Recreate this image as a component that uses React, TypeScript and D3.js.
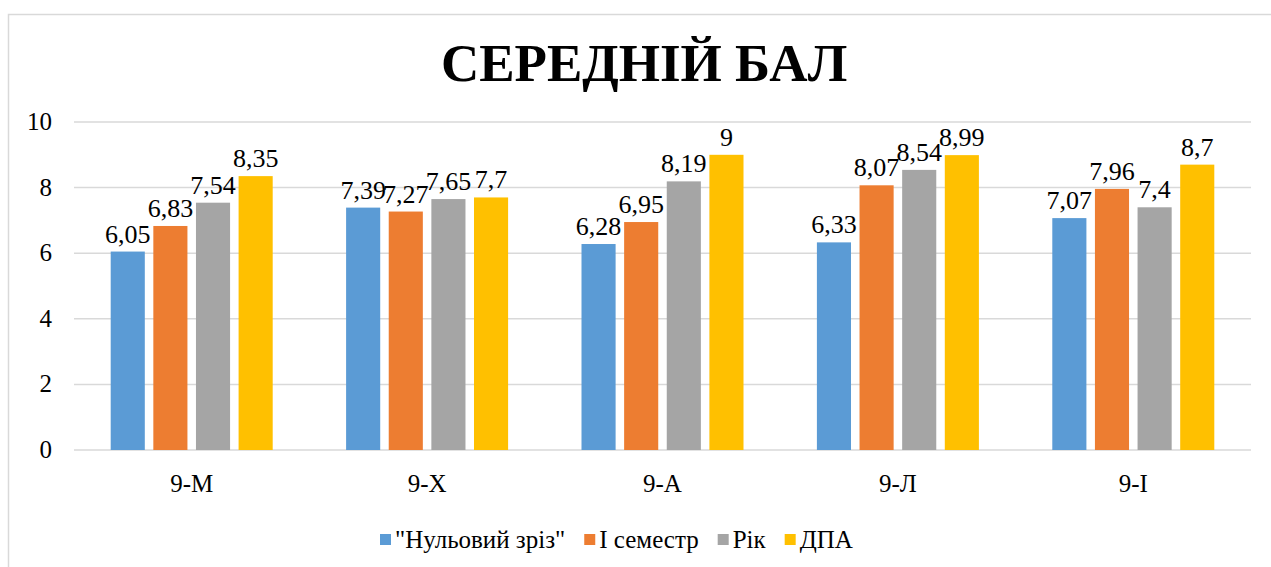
import * as d3 from 'd3';

const classes = ['9-М', '9-Х', '9-А', '9-Л', '9-І'];
const seriesNames = ['"Нульовий зріз"', 'І семестр', 'Рік', 'ДПА'];
const zeroCut = [6.05, 7.39, 6.28, 6.33, 7.07];
const semester1 = [6.83, 7.27, 6.95, 8.07, 7.96];
const year = [7.54, 7.65, 8.19, 8.54, 7.4];
const dpa = [8.35, 7.7, 9, 8.99, 8.7];
const yTicks = [0, 2, 4, 6, 8, 10];

const colors = ['#5B9BD5', '#ED7D31', '#A5A5A5', '#FFC000'];
const font = "'Liberation Serif'";

const W = 1271;
const H = 567;
const left = 74, right = 1251, top = 122, bottom = 450;
const series = [zeroCut, semester1, year, dpa];

const x0 = d3.scaleBand().domain(classes).range([left, right]);
const gap = 36.7;
const x1 = d3.scaleBand()
  .domain(d3.range(4).map(String))
  .range([gap, x0.bandwidth() - gap])
  .paddingInner(0.2);
const y = d3.scaleLinear().domain([0, 10]).range([bottom, top]);

// measure legend labels so the items sit side by side
const measure = (s: string, size: number) => {
  const ctx = document.createElement('canvas').getContext('2d');
  ctx.font = `${size}px ${font}`;
  return ctx.measureText(s).width;
};

const fmt = (v: number) => String(v).replace('.', ',');

const App = () => {
  let cx = 380;
  const legendItems = seriesNames.map((name, i) => {
    const item = { name, i, x: cx };
    cx += 15 + measure(name, 25) + 19;
    return item;
  });

  return (
    <svg width={W} height={H}
      style={{ position: 'absolute', left: 0, top: 0, background: '#fff' }}>
      <rect x={8.5} y={14.5} width={W} height={H} fill="#fff" stroke="#D9D9D9" strokeWidth={1.5} />
      <text x={644} y={81} textAnchor="middle" fontSize={53}
        style={{ fontFamily: font, fontWeight: 'bold' }}>СЕРЕДНІЙ БАЛ</text>

      {yTicks.map(t => (
        <line key={'g' + t} x1={left} x2={right} y1={y(t)} y2={y(t)} stroke="#D9D9D9" strokeWidth={1.5} />
      ))}
      {yTicks.map(t => (
        <text key={'t' + t} x={52} y={y(t) + 8} textAnchor="end" fontSize={25}
          style={{ fontFamily: font }}>{t}</text>
      ))}

      {series.map((vals, si) => (
        <g key={'s' + si}>
          {vals.map((v, i) => (
            <rect key={i} x={x0(classes[i]) + x1(String(si))} y={y(v)}
              width={x1.bandwidth()} height={bottom - y(v)} fill={colors[si]} />
          ))}
          {vals.map((v, i) => (
            <text key={'l' + i} x={x0(classes[i]) + x1(String(si)) + x1.bandwidth() / 2} y={y(v) - 9}
              textAnchor="middle" fontSize={26} style={{ fontFamily: font }}>{fmt(v)}</text>
          ))}
        </g>
      ))}

      {classes.map(c => (
        <text key={c} x={x0(c) + x0.bandwidth() / 2} y={492} textAnchor="middle" fontSize={25}
          style={{ fontFamily: font }}>{c}</text>
      ))}

      {legendItems.map(it => (
        <g key={it.name}>
          <rect x={it.x} y={534} width={11} height={11} fill={colors[it.i]} />
          <text x={it.x + 15} y={548} fontSize={25} style={{ fontFamily: font }}>{it.name}</text>
        </g>
      ))}
    </svg>
  );
};

export default App;
